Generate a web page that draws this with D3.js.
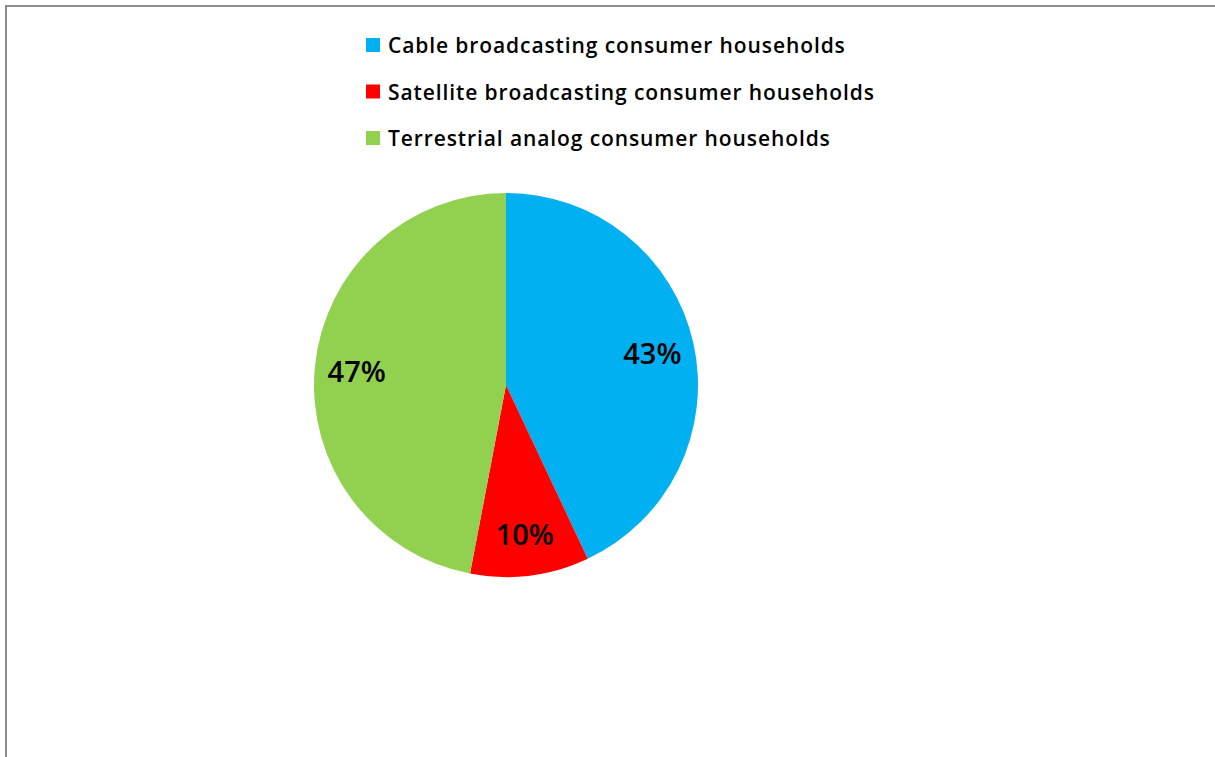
<!DOCTYPE html>
<html>
<head>
<meta charset="utf-8">
<script src="https://cdn.jsdelivr.net/npm/d3@7"></script>
<style>
  body { margin: 0; background: #fff; overflow: hidden; }
  svg { display: block; }
</style>
</head>
<body>
<svg id="drawing_region"></svg>
<script>
const categories = [
    "Cable broadcasting consumer households",
    "Satellite broadcasting consumer households",
    "Terrestrial analog consumer households"
];
const values = [43, 10, 47];
const colors = ["#00B0F0", "#FF0000", "#92D050"];

var config = {
    parent: '#drawing_region',
    width: 1215,
    height: 757,
    cx: 506,
    cy: 385,
    radius: 192,
    label_radius: 150,
    legend: {x: 366, y: 38, size: 14, gap: 46.5, text_dx: 22}
};

const data = categories.map( (c, i) => ({label: c, value: values[i], color: colors[i]}) );

const svg = d3.select(config.parent)
    .attr('width', config.width)
    .attr('height', config.height);

// frame (only top and left edges fall inside the picture)
svg.append('rect')
    .attr('x', 6)
    .attr('y', 6)
    .attr('width', config.width + 40)
    .attr('height', config.height + 40)
    .attr('fill', 'none')
    .attr('stroke', '#8c8c8c')
    .attr('stroke-width', 2);

const pie = d3.pie()
    .value( d => d.value )
    .sort(null);

const arc = d3.arc()
    .innerRadius(0)
    .outerRadius(config.radius);

const label_arc = d3.arc()
    .innerRadius(config.label_radius)
    .outerRadius(config.label_radius);

const g = svg.append('g')
    .attr('transform', `translate(${config.cx}, ${config.cy})`);

const slices = g.selectAll('.slice')
    .data(pie(data))
    .enter()
    .append('g')
    .attr('class', 'slice');

slices.append('path')
    .attr('d', arc)
    .attr('fill', d => d.data.color);

slices.append('text')
    .attr('transform', d => `translate(${label_arc.centroid(d)})`)
    .attr('text-anchor', 'middle')
    .attr('dominant-baseline', 'central')
    .attr('font-family', '"Open Sans", sans-serif')
    .attr('font-weight', 600)
    .attr('font-size', '29px')
    .attr('fill', '#000')
    .text( d => d.data.value + '%' );

// legend
const legend = svg.append('g')
    .attr('transform', `translate(${config.legend.x}, ${config.legend.y})`);

const items = legend.selectAll('.item')
    .data(data)
    .enter()
    .append('g')
    .attr('class', 'item')
    .attr('transform', (d, i) => `translate(0, ${i * config.legend.gap})`);

items.append('rect')
    .attr('width', config.legend.size)
    .attr('height', config.legend.size)
    .attr('fill', d => d.color);

items.append('text')
    .attr('x', config.legend.text_dx)
    .attr('y', config.legend.size / 2)
    .attr('dominant-baseline', 'central')
    .attr('font-family', '"Open Sans", sans-serif')
    .attr('font-weight', 600)
    .attr('font-size', '21px')
    .attr('letter-spacing', '0.9px')
    .attr('fill', '#000')
    .text( d => d.label );
</script>
</body>
</html>
